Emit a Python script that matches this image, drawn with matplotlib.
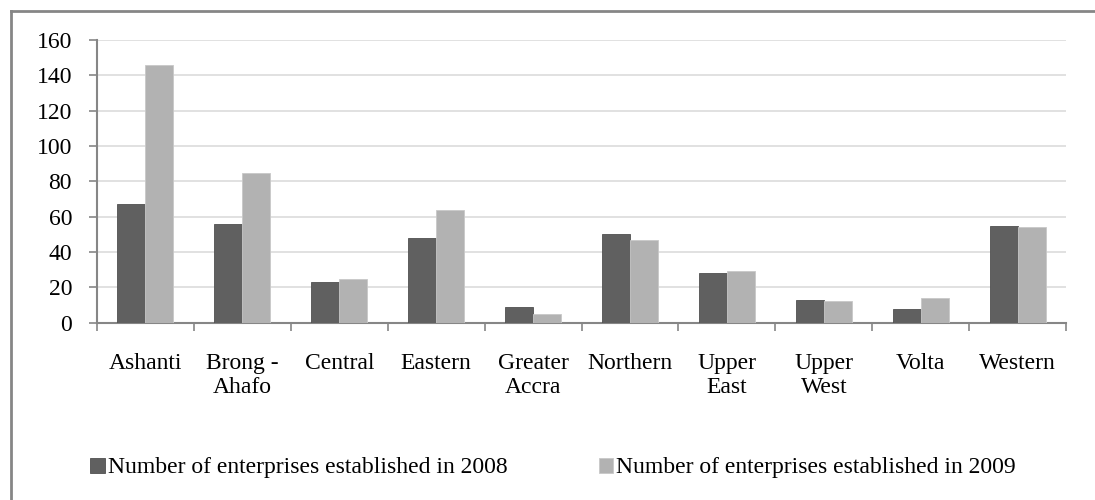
import numpy as np
import matplotlib.pyplot as plt
from matplotlib.lines import Line2D

plt.rcParams['font.family'] = ['Liberation Serif', 'DejaVu Serif']
plt.rcParams['font.size'] = 17

regions = ['Ashanti', 'Brong -\nAhafo', 'Central', 'Eastern', 'Greater\nAccra',
           'Northern', 'Upper\nEast', 'Upper\nWest', 'Volta', 'Western']
est_2008 = [67, 56, 23, 48, 9, 50, 28, 13, 8, 55]
est_2009 = [146, 85, 25, 64, 5, 47, 29, 12, 14, 54]
yticks = [0, 20, 40, 60, 80, 100, 120, 140, 160]

dark = '#606060'
light = '#b2b2b2'
axis_col = '#868686'

fig = plt.figure(figsize=(10.95, 5), dpi=100)
ax = fig.add_axes([0.0886, 0.3546, 0.885, 0.5654])

x = np.arange(len(regions))
w = 0.289
ax.bar(x - w / 2, est_2008, w, color=dark, edgecolor='#505050', linewidth=0.6,
       label='Number of enterprises established in 2008', zorder=3)
ax.bar(x + w / 2, est_2009, w, color=light, edgecolor='#c8c8c8', linewidth=0.6,
       label='Number of enterprises established in 2009', zorder=3)

ax.set_xlim(-0.5, len(regions) - 0.5)
ax.set_ylim(0, 160)
ax.set_yticks(yticks)
ax.yaxis.grid(True, color='#d9d9d9', linewidth=1.1, zorder=0)
ax.set_axisbelow(True)

ax.set_xticks(x)
ax.set_xticklabels(regions, linespacing=1.2)
ax.set_xticks(np.arange(-0.5, len(regions), 1), minor=True)
ax.tick_params(axis='x', which='major', length=0, pad=22)
ax.tick_params(axis='x', which='minor', length=6, color=axis_col, width=1.2, direction='out')
ax.tick_params(axis='y', length=6, color=axis_col, width=1.2, pad=12)

for s in ['top', 'right']:
    ax.spines[s].set_visible(False)
for s in ['left', 'bottom']:
    ax.spines[s].set_color(axis_col)
    ax.spines[s].set_linewidth(1.5)

handles, labels = ax.get_legend_handles_labels()
fig.legend(handles, labels, loc='center left', bbox_to_anchor=(0.0826, 0.064), ncol=2,
           frameon=False, handlelength=0.6, handleheight=0.6, handletextpad=0.15,
           columnspacing=3.85, borderaxespad=0, borderpad=0)

# outer chart frame (left and top edges)
fig.add_artist(Line2D([0.0096, 0.0096], [0, 0.979], color=axis_col, linewidth=2))
fig.add_artist(Line2D([0.0096, 1], [0.979, 0.979], color=axis_col, linewidth=2))

fig.savefig('out.png', dpi=100)
